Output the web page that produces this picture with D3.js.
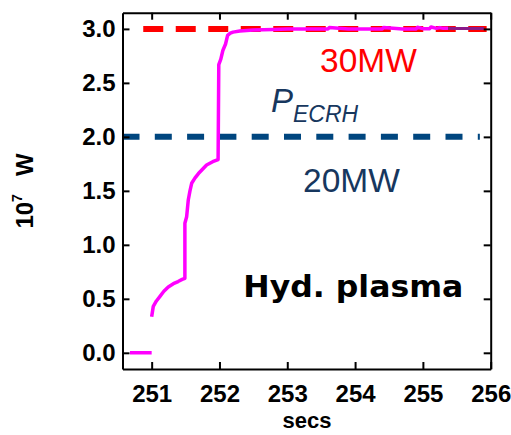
<!DOCTYPE html>
<html>
<head>
<meta charset="utf-8">
<script src="https://cdn.jsdelivr.net/npm/d3@7"></script>
<style>
  html, body { margin: 0; padding: 0; background: #fff; }
  svg { display: block; }
</style>
</head>
<body>
<svg id="chart" width="511" height="435"></svg>
<script>
// ECRH heating power trace (units of 10^7 W) against time in seconds.
// null marks the break where the trace switches on.
const timeSec = [
  250.68, 251.0, null,
  251.0, 251.024, 251.07, 251.12, 251.18, 251.245, 251.32, 251.39, 251.45, 251.49,
  251.49, 251.516, 251.54, 251.565, 251.59, 251.64, 251.69, 251.75, 251.81, 251.9, 251.98,
  251.99, 252.02, 252.05, 252.09, 252.12, 252.16, 252.2, 252.3, 252.5,
  252.8, 253.0, 253.3, 253.6, 253.62, 253.9, 254.2, 254.4, 254.42, 254.7,
  254.9, 254.92, 255.0, 255.1, 255.12, 255.2, 255.25, 255.3, 255.37,
  255.5, 255.7, 255.9
];
const powerE7W = [
  0.0, 0.0, null,
  0.334, 0.43, 0.48, 0.52, 0.57, 0.61, 0.64, 0.66, 0.68, 0.69,
  1.20, 1.26, 1.415, 1.50, 1.57, 1.62, 1.66, 1.70, 1.74, 1.77, 1.79,
  2.67, 2.72, 2.80, 2.86, 2.94, 2.96, 2.97, 2.98, 2.99,
  2.995, 3.0, 3.0, 3.0, 3.012, 3.0, 3.0, 3.0, 3.012, 3.0,
  3.0, 3.015, 3.002, 3.002, 3.018, 3.005, 3.012, 3.005, 3.005,
  3.003, 3.003, 3.003
];
// The last stretch of the trace is drawn in a darker shade.
const tailFromSec = 255.37;

// Nominal heating power levels, in 10^7 W.
const levelNames = ["30MW", "20MW"];
const levelValues = [3.0, 2.0];
const levelStartSec = [250.876, 250.57];
const levelEndSec = [255.94, 255.84];

const xTicks = [251, 252, 253, 254, 255, 256];
const xTickLabels = ["251", "252", "253", "254", "255", "256"];
const yTicks = [0.0, 0.5, 1.0, 1.5, 2.0, 2.5, 3.0];
const yTickLabels = ["0.0", "0.5", "1.0", "1.5", "2.0", "2.5", "3.0"];

const svg = d3.select("#chart");
const plotLeft = 122.5, plotRight = 490.7, plotTop = 12.7, plotBottom = 369;

const x = d3.scaleLinear().domain([250.57, 256.0]).range([plotLeft, plotRight]);
const y = d3.scaleLinear().domain([-0.15, 3.15]).range([plotBottom, plotTop]);

const tickFont = "'Liberation Sans', Arial, sans-serif";

// Frame and inward ticks on all four sides
function styleAxis(g) {
  g.selectAll("path.domain").attr("stroke", "#000").attr("stroke-width", 2);
  g.selectAll(".tick line").attr("stroke", "#000").attr("stroke-width", 2);
  g.selectAll(".tick text")
    .attr("fill", "#000")
    .attr("font-family", tickFont)
    .attr("font-weight", "bold")
    .attr("font-size", 24);
}

// Power trace
const pts = timeSec.map((t, i) => ({ t, v: powerE7W[i] }));
const line = d3.line()
  .defined(d => d.t !== null && d.v !== null)
  .x(d => x(d.t))
  .y(d => y(d.v));

const mainPts = pts.filter(d => d.t === null || d.t <= tailFromSec);
const tailPts = pts.filter(d => d.t !== null && d.t >= tailFromSec);

// Nominal power levels as thick dashed lines
const levelColors = ["#ff0000", "#00467f"];
const levelDash = ["20,12.5", "17,15.3"];
svg.selectAll("line.level")
  .data(levelValues)
  .join("line")
  .attr("class", "level")
  .attr("x1", (d, i) => x(levelStartSec[i]))
  .attr("x2", (d, i) => x(levelEndSec[i]))
  .attr("y1", d => y(d))
  .attr("y2", d => y(d))
  .attr("stroke", (d, i) => levelColors[i])
  .attr("stroke-width", 6)
  .attr("stroke-dasharray", (d, i) => levelDash[i]);

svg.append("path")
  .datum(mainPts)
  .attr("d", line)
  .attr("fill", "none")
  .attr("stroke", "#ff00ff")
  .attr("stroke-width", 3.5)
  .attr("stroke-linejoin", "round");

svg.append("path")
  .datum(tailPts)
  .attr("d", line)
  .attr("fill", "none")
  .attr("stroke", "#8a1a8a")
  .attr("stroke-width", 3);

svg.append("g")
  .attr("transform", `translate(0,${plotBottom})`)
  .call(d3.axisBottom(x).tickValues(xTicks)
    .tickFormat((d, i) => xTickLabels[i])
    .tickSizeInner(-7).tickSizeOuter(0).tickPadding(16))
  .call(styleAxis);

svg.append("g")
  .attr("transform", `translate(0,${plotTop})`)
  .call(d3.axisTop(x).tickValues(xTicks).tickFormat("")
    .tickSizeInner(-7).tickSizeOuter(0))
  .call(styleAxis);

svg.append("g")
  .attr("transform", `translate(${plotLeft},0)`)
  .call(d3.axisLeft(y).tickValues(yTicks)
    .tickFormat((d, i) => yTickLabels[i])
    .tickSizeInner(-7).tickSizeOuter(0).tickPadding(7))
  .call(styleAxis);

svg.append("g")
  .attr("transform", `translate(${plotRight},0)`)
  .call(d3.axisRight(y).tickValues(yTicks).tickFormat("")
    .tickSizeInner(-7).tickSizeOuter(0))
  .call(styleAxis);

// Axis titles
svg.append("text")
  .attr("x", 307)
  .attr("y", 427.5)
  .attr("text-anchor", "middle")
  .attr("font-family", tickFont)
  .attr("font-weight", "bold")
  .attr("font-size", 22)
  .text("secs");

const yTitle = svg.append("text")
  .attr("transform", "translate(33,191) rotate(-90)")
  .attr("text-anchor", "middle")
  .attr("font-family", tickFont)
  .attr("font-weight", "bold")
  .attr("font-size", 24);
yTitle.append("tspan").text("10");
yTitle.append("tspan").attr("font-size", 14).attr("dy", -11).text("7");
yTitle.append("tspan").attr("dy", 11).attr("dx", 18).text("W");

// Annotations
const annFont = "'Liberation Sans', Arial, sans-serif";
svg.append("text")
  .attr("x", 320).attr("y", 71.7)
  .attr("font-family", annFont).attr("font-size", 33.5)
  .attr("fill", "#ff0000")
  .text(levelNames[0]);

svg.append("text")
  .attr("x", 303).attr("y", 191.7)
  .attr("font-family", annFont).attr("font-size", 33.5)
  .attr("fill", "#17375e")
  .text(levelNames[1]);

const pLabel = svg.append("text")
  .attr("x", 271).attr("y", 111.7)
  .attr("font-family", annFont).attr("font-style", "italic")
  .attr("font-size", 33)
  .attr("fill", "#17375e");
pLabel.append("tspan").text("P");
pLabel.append("tspan").attr("font-size", 23).attr("dy", 10).text("ECRH");

svg.append("text")
  .attr("x", 243.3).attr("y", 296.7)
  .attr("font-family", "'DejaVu Sans', sans-serif")
  .attr("font-weight", "bold")
  .attr("font-size", 30)
  .attr("textLength", 220)
  .attr("lengthAdjust", "spacingAndGlyphs")
  .attr("fill", "#000")
  .text("Hyd. plasma");
</script>
</body>
</html>
